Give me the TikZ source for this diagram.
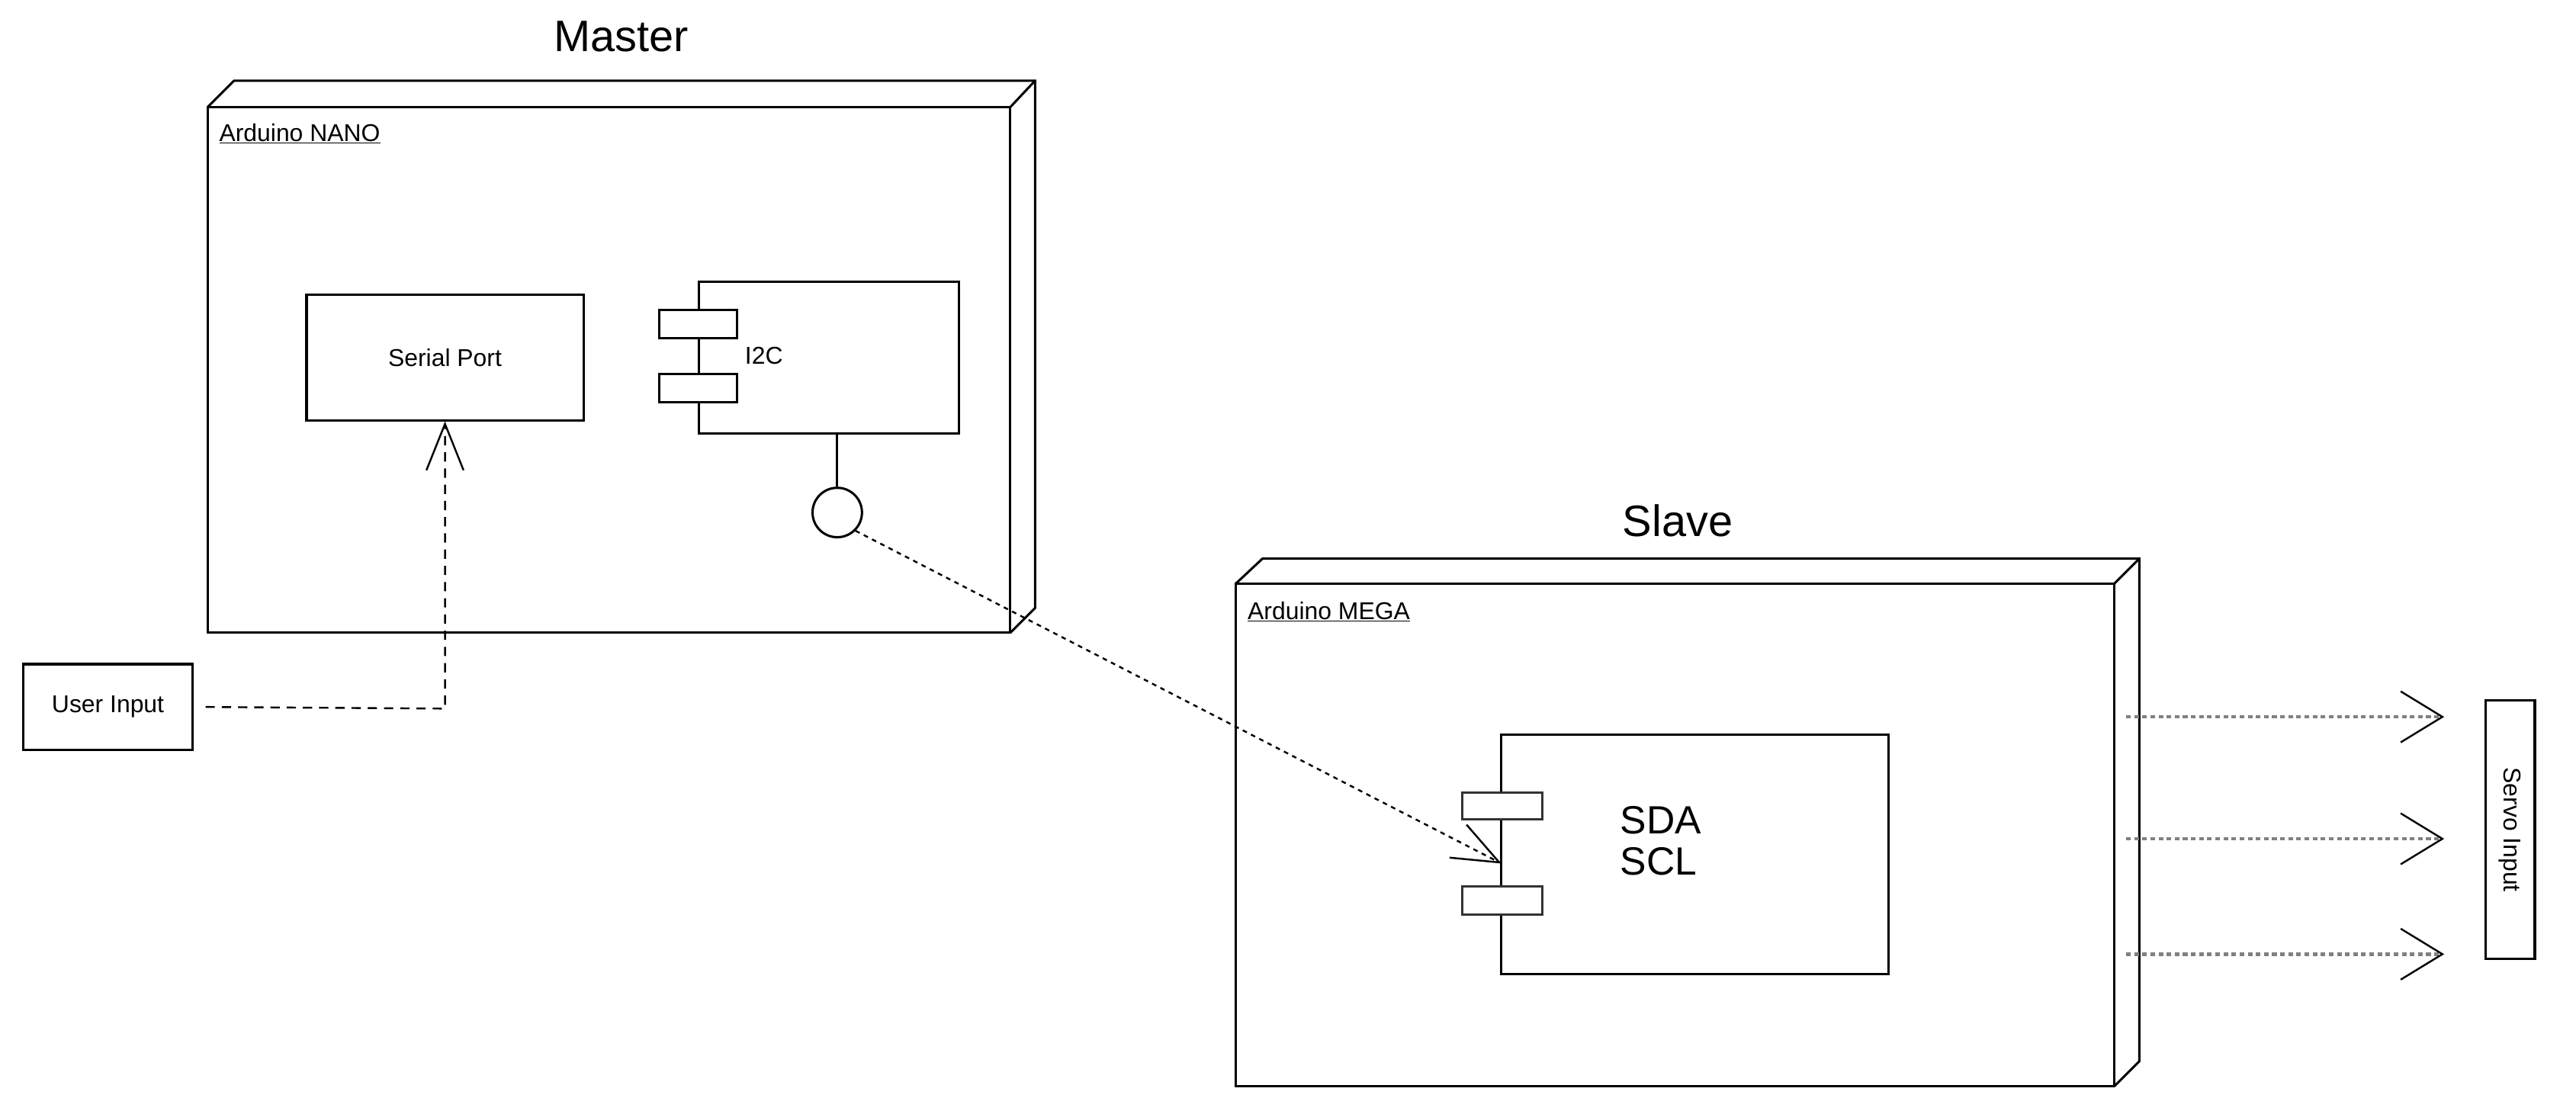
\documentclass[tikz,border=0pt]{standalone}
\usepackage{fontspec}
\setmainfont{Liberation Sans}
\usetikzlibrary{arrows.meta}
\begin{document}
\begin{tikzpicture}[x=0.05cm,y=-0.05cm,line width=2pt,
  box/.style={draw,fill=white,inner sep=0pt},
  small/.style={font=\fontsize{21}{25}\selectfont},
  big/.style={font=\fontsize{38}{44}\selectfont},
  dep/.style={dashed,dash pattern=on 8pt off 6pt,line width=1.6pt,-{Straight Barb[length=40pt,width=32pt,line width=1.6pt]}},
  dot/.style={draw=gray,dash pattern=on 4pt off 3pt,line width=3pt,-{Straight Barb[length=36pt,width=44pt,line width=1.6pt,color=black]}}]
\useasboundingbox (0,0) rectangle (1563,676);
% Master node
\draw (126,65) -- (142,49) -- (628,49) -- (628,369) -- (613,384);
\draw (613,65) -- (628,49);
\draw (126,65) rectangle (613,384);
\node[big] (mt) at (377,22) {Master};
\node[small,anchor=north west] (an) at (130,72) {\underline{Arduino NANO}};
\node[box,small,minimum width=168*0.05cm,minimum height=76*0.05cm] (sp) at (270,217) {Serial Port};
\draw (424,171) rectangle (582,263);
\node[box,minimum width=47*0.05cm,minimum height=17*0.05cm] (r1) at (423.5,196.5) {};
\node[box,minimum width=47*0.05cm,minimum height=17*0.05cm] (r2) at (423.5,235.5) {};
\node[small,anchor=west] (i2c) at (449,216) {I2C};
\coordinate (i2cb) at (508,263);
\node[draw,circle,minimum size=30*0.05cm,inner sep=0pt] (ci) at (508,311) {};
\draw (i2cb) -- (ci.north);
% user input
\node[box,small,minimum width=103*0.05cm,minimum height=52*0.05cm] (ui) at (65.5,429) {User Input};
\coordinate (uc) at (270,430);
\draw[dep] ([xshift=10pt]ui.east) -- (uc) -- (sp.south);
% Slave node
\draw (750,354) -- (766,339) -- (1298,339) -- (1298,644) -- (1283,659);
\draw (1283,354) -- (1298,339);
\draw (750,354) rectangle (1283,659);
\node[big] (st) at (1018,316) {Slave};
\node[small,anchor=north west] (am) at (754,362) {\underline{Arduino MEGA}};
\draw (911,446) rectangle (1146,591);
\node[box,draw=black!80,minimum width=49*0.05cm,minimum height=16*0.05cm] (s1) at (911.5,489) {};
\node[box,draw=black!80,minimum width=49*0.05cm,minimum height=17*0.05cm] (s2) at (911.5,546.5) {};
\node[big,font=\fontsize{34}{40}\selectfont,anchor=north west,align=left] (sda) at (980,486) {SDA\\[-4pt]SCL};
\coordinate (sin) at (911,524);
\draw[dep,dash pattern=on 4pt off 4pt] (ci.south east) -- (sin);
% servo
\node[box,small,minimum width=157*0.05cm,minimum height=30*0.05cm,rotate=-90] (sv) at (1523,503.5) {Servo Input};
\coordinate (o1) at (1290,435); \coordinate (t1) at (1483,435);
\coordinate (o2) at (1290,509); \coordinate (t2) at (1483,509);
\coordinate (o3) at (1290,579); \coordinate (t3) at (1483,579);
\draw[dot] (o1) -- (t1);
\draw[dot] (o2) -- (t2);
\draw[dot] (o3) -- (t3);
\end{tikzpicture}
\end{document}
